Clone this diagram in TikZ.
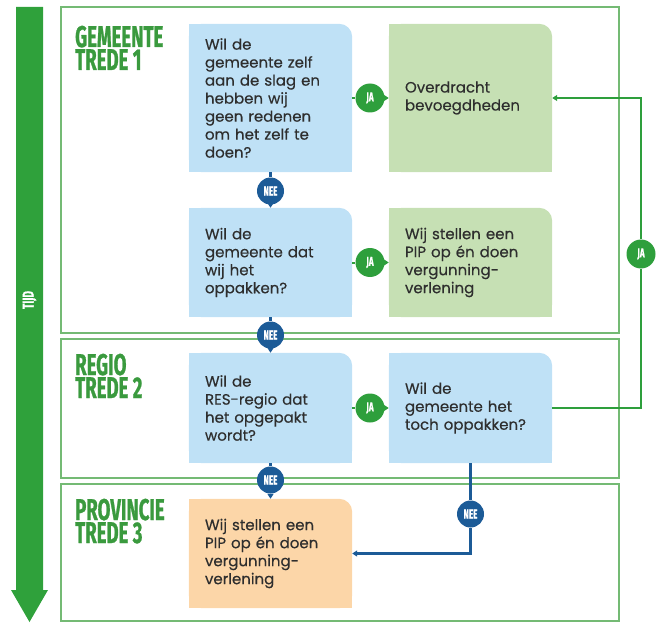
\documentclass[tikz,border=0pt]{standalone}
\usepackage{fontspec}
\setmainfont{Poppins}[UprightFeatures={FakeBold=0.35}]
\newfontfamily\headfont[FakeStretch=0.62, BoldFeatures={FakeBold=0.8}]{Fira Sans}
\usetikzlibrary{backgrounds,calc,arrows.meta}
\definecolor{arrowG}{HTML}{2FA13B}
\definecolor{headG}{HTML}{3A9A3E}
\definecolor{panelG}{HTML}{74BA74}
\definecolor{blueF}{HTML}{BFE1F6}
\definecolor{greenF}{HTML}{C6E0B4}
\definecolor{orangeF}{HTML}{FCD6A8}
\definecolor{jaG}{HTML}{2E9F3C}
\definecolor{neeB}{HTML}{1C5B97}
\definecolor{txt}{HTML}{2E2E2E}
\tikzset{
  box/.style={rectangle, minimum width=163pt, text width=131pt, inner xsep=16pt, inner ysep=0pt,
    align=left, text=txt, font=\fontsize{15}{18}\selectfont},
  head/.style={anchor=base west, inner sep=0pt, text=headG,
    font=\headfont\bfseries\fontsize{30}{30}\selectfont},
  jacirc/.style={circle, fill=jaG, minimum size=29pt, inner sep=0pt, text=white,
    font=\headfont\bfseries\fontsize{13}{13}\selectfont},
  neecirc/.style={circle, fill=neeB, minimum size=27pt, inner sep=0pt, text=white,
    font=\headfont\bfseries\fontsize{13}{13}\selectfont},
  jaline/.style={draw=jaG, line width=2pt},
  neeline/.style={draw=neeB, line width=2.2pt},
  tip/.style={-{Triangle[length=5pt,width=6pt]}},
  panel/.style={draw=panelG, line width=1.6pt}
}
\begin{document}
\begin{tikzpicture}[x=1pt,y=-1pt]
\useasboundingbox (0,0) rectangle (656,623);
% time arrow
\fill[arrowG] (16,7) -- (43,7) -- (43,590) -- (48,590) -- (29.5,622) -- (11,590) -- (16,590) -- cycle;
\node[rotate=90, text=white, font=\headfont\bfseries\fontsize{16}{16}\selectfont] (tijd) at (29.5,300) {TIJD};
% panels
\draw[panel] (61,7) rectangle (619,333);
\draw[panel] (61,339) rectangle (619,478);
\draw[panel] (61,484) rectangle (619,621);
% headings
\node[head] (h1a) at (75,47) {GEMEENTE};
\node[head] (h1b) at (75,70) {TREDE 1};
\node[head] (h2a) at (75,375) {REGIO};
\node[head] (h2b) at (75,398) {TREDE 2};
\node[head] (h3a) at (75,520) {PROVINCIE};
\node[head] (h3b) at (75,543) {TREDE 3};
% boxes
\node[box, minimum height=148pt] (b1) at (270.5,98) {Wil de\\gemeente zelf\\aan de slag en\\hebben wij\\geen redenen\\om het zelf te\\doen?};
\node[box, minimum height=148pt] (g1) at (470.5,98) {Overdracht\\bevoegdheden};
\node[box, minimum height=109pt] (b2) at (270.5,262.5) {Wil de\\gemeente dat\\wij het\\oppakken?};
\node[box, minimum height=109pt] (g2) at (470.5,262.5) {Wij stellen een\\PIP op én doen\\vergunning-\\verlening};
\node[box, minimum height=110pt] (b3) at (270.5,408) {Wil de\\RES-regio dat\\het opgepakt\\wordt?};
\node[box, minimum height=110pt] (b4) at (470.5,408) {Wil de\\gemeente het\\toch oppakken?};
\node[box, minimum height=109pt] (o1) at (270.5,553.5) {Wij stellen een\\PIP op én doen\\vergunning-\\verlening};
\begin{scope}[on background layer]
\foreach \n/\c in {b1/blueF, g1/greenF, b2/blueF, g2/greenF, b3/blueF, b4/blueF, o1/orangeF}{
  \fill[\c, rounded corners=13pt] (\n.south west) rectangle (\n.north east);
  \fill[\c] (\n.south west) rectangle ($(\n.north east)+(-14pt,0pt)$);
  \fill[\c] (\n.south west) rectangle ($(\n.north east)+(0pt,-14pt)$);
}
\end{scope}
% circles
\node[jacirc] (ja1) at (370,98) {JA};
\node[jacirc] (ja2) at (370,262.5) {JA};
\node[jacirc] (ja3) at (370,408) {JA};
\node[jacirc] (ja4) at (641,254) {JA};
\node[neecirc] (nee1) at (270.5,191) {NEE};
\node[neecirc] (nee2) at (270.5,335) {NEE};
\node[neecirc] (nee3) at (270.5,480) {NEE};
\node[neecirc] (nee4) at (470.5,514) {NEE};
\coordinate (k1) at (470.5,553.5);
\coordinate (k2) at (641,408);
\coordinate (k3) at (641,98);
% connectors
\draw[jaline] (b1) -- (ja1); \draw[jaline, tip] (ja1) -- (g1);
\draw[jaline] (b2) -- (ja2); \draw[jaline, tip] (ja2) -- (g2);
\draw[jaline] (b3) -- (ja3); \draw[jaline, tip] (ja3) -- (b4);
\draw[jaline] (b4) -- (k2) -- (ja4); \draw[jaline, tip] (ja4) -- (k3) -- (g1);
\draw[neeline] (b1) -- (nee1); \draw[neeline, tip] (nee1) -- (b2);
\draw[neeline] (b2) -- (nee2); \draw[neeline, tip] (nee2) -- (b3);
\draw[neeline] (b3) -- (nee3); \draw[neeline, tip] (nee3) -- (o1);
\draw[neeline] (b4) -- (nee4); \draw[neeline, tip] (nee4) -- (k1) -- (o1);
\end{tikzpicture}
\end{document}
